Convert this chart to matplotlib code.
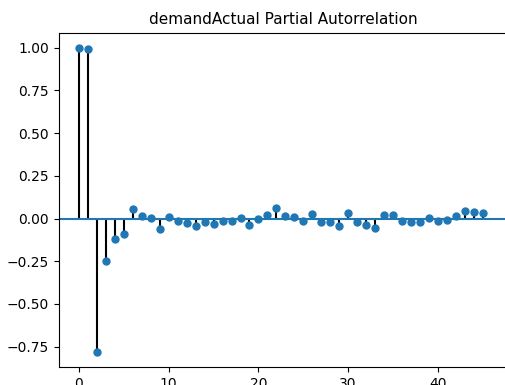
import numpy as np
import matplotlib
matplotlib.use("Agg")
import matplotlib.pyplot as plt

# partial autocorrelation values, lags 0..45
lags = np.arange(46)
pacf_vals = [
    1.000, 0.995, -0.782, -0.251, -0.121, -0.092, 0.055, 0.015, 0.004, -0.064,
    0.010, -0.016, -0.027, -0.043, -0.023, -0.033, -0.017, -0.016, 0.006, -0.039,
    0.000, 0.018, 0.064, 0.014, 0.008, -0.016, 0.029, -0.018, -0.021, -0.041,
    0.033, -0.023, -0.039, -0.057, 0.023, 0.019, -0.014, -0.019, -0.019, 0.004,
    -0.016, -0.010, 0.014, 0.047, 0.039, 0.035,
]
title = "demandActual Partial Autorrelation"

fig = plt.figure(figsize=(5.05, 3.85), dpi=100)
# axes placed so the right spine falls just outside the picture
ax = fig.add_axes([58.8 / 505, 18 / 385, (507 - 58.8) / 505, (367 - 32.5) / 385])

ax.vlines(lags, 0, pacf_vals, colors="k")
ax.plot(lags, pacf_vals, "o", color="C0", markersize=5)
ax.axhline(0, color="C0", lw=1.5)

ax.set_xlim(-2.25, 47.7)
ax.set_ylim(-0.869, 1.089)
ax.set_xticks([0, 10, 20, 30, 40])
ax.set_yticks([-0.75, -0.5, -0.25, 0, 0.25, 0.5, 0.75, 1.0])
ax.set_title(title, fontsize=11)

fig.savefig("out.png", dpi=100)
